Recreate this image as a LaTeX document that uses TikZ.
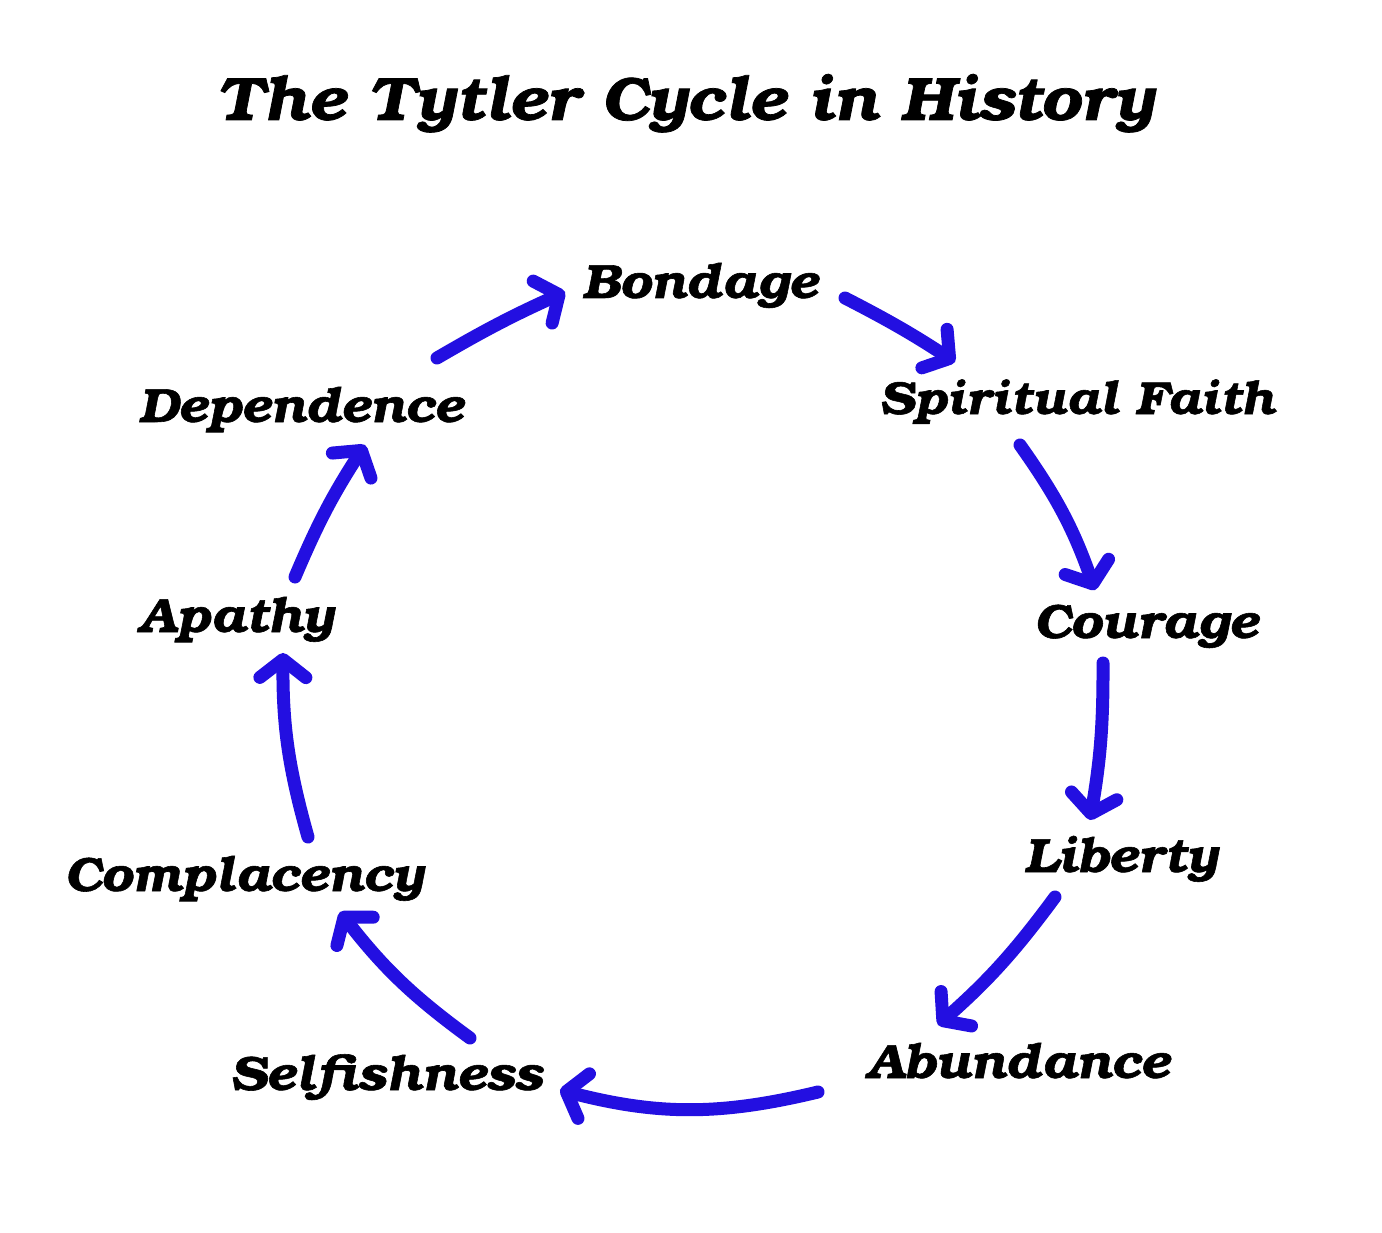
\documentclass[tikz,border=0pt]{standalone}
\usepackage{fontspec}
\newfontfamily\bonum{texgyrebonum-bolditalic.otf}[FakeStretch=1.08, FakeBold=1.2]
\usetikzlibrary{arrows.meta}
\definecolor{arrowblue}{RGB}{35,15,225}
\tikzset{
  lbl/.style={anchor=base, inner sep=0pt, font=\bonum\fontsize{48}{52}\selectfont, text=black},
  ttl/.style={anchor=base, inner sep=0pt, font=\bonum\fontsize{61}{66}\selectfont, text=black},
  cyc/.style={draw=arrowblue, line width=13pt, line cap=round,
    -{Straight Barb[length=18pt, width=46pt, round]}},
}
\begin{document}
\begin{tikzpicture}[x=1pt, y=-1pt]
\fill[white] (0,0) rectangle (1382,1233);
\useasboundingbox (0,0) rectangle (1382,1233);
\node[ttl] (title) at (685,120) {The Tytler Cycle in History};
\node[lbl] (bondage) at (700,298) {Bondage};
\node[lbl, font=\bonum\fontsize{46}{50}\selectfont] (faith) at (1077,414) {Spiritual Faith};
\node[lbl] (courage) at (1146,638) {Courage};
\node[lbl] (liberty) at (1121,872) {Liberty};
\node[lbl] (abundance) at (1018,1078) {Abundance};
\node[lbl] (selfish) at (386,1090) {Selfishness};
\node[lbl] (complacency) at (244,891) {Complacency};
\node[lbl] (apathy) at (236,632) {Apathy};
\node[lbl] (dependence) at (301,422) {Dependence};
% arrow end points
\coordinate (a1s) at (845,298); \coordinate (a1e) at (955,362);
\coordinate (a2s) at (1020,445); \coordinate (a2e) at (1095,590);
\coordinate (a3s) at (1103,663); \coordinate (a3e) at (1090,820);
\coordinate (a4s) at (1055,897); \coordinate (a4e) at (938,1025);
\coordinate (a5s) at (818,1092); \coordinate (a5e) at (560,1090);
\coordinate (a6s) at (470,1038); \coordinate (a6e) at (340,912);
\coordinate (a7s) at (308,837); \coordinate (a7e) at (283,653);
\coordinate (a8s) at (295,577); \coordinate (a8e) at (365,445);
\coordinate (a9s) at (437,358); \coordinate (a9e) at (565,292);
\draw[cyc] (a1s) to[bend left=3] (a1e);
\draw[cyc] (a2s) to[bend left=8] (a2e);
\draw[cyc] (a3s) to[bend left=5] (a3e);
\draw[cyc] (a4s) to[bend left=6] (a4e);
\draw[cyc] (a5s) to[bend left=14] (a5e);
\draw[cyc] (a6s) to[bend left=8] (a6e);
\draw[cyc] (a7s) to[bend left=8] (a7e);
\draw[cyc] (a8s) to[bend left=5] (a8e);
\draw[cyc] (a9s) to[bend left=3] (a9e);
\end{tikzpicture}
\end{document}
